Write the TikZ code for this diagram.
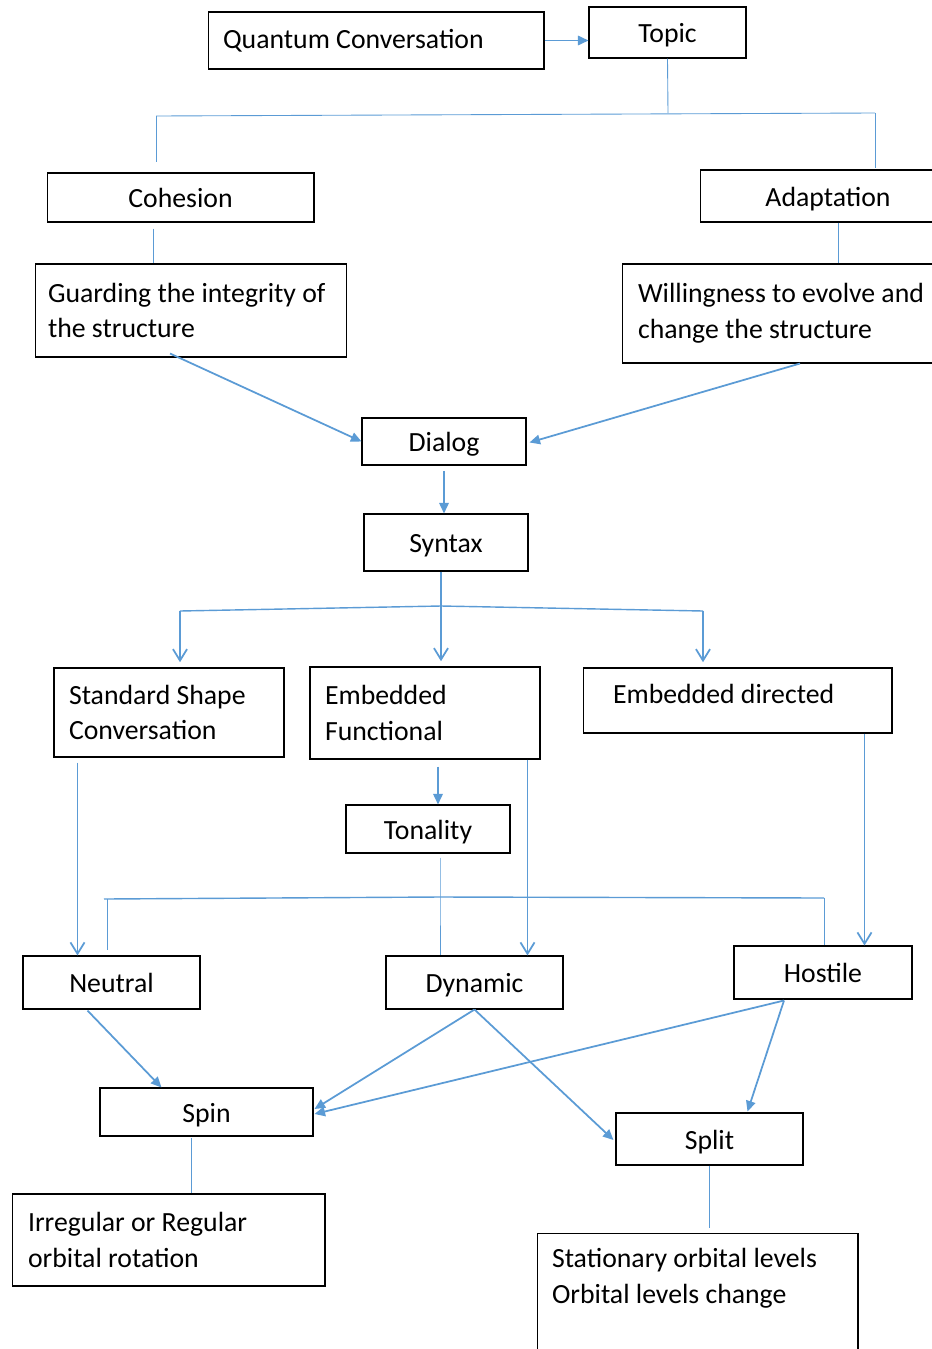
\documentclass[tikz,border=0pt]{standalone}
\usepackage{fontspec}
\setmainfont{Carlito}
\usetikzlibrary{arrows.meta,calc}
\definecolor{linkblue}{HTML}{5B9BD5}
\begin{document}
\begin{tikzpicture}[x=0.02cm, y=-0.02cm,
  frame/.style={draw, line width=0.6pt, inner sep=0pt, font=\fontsize{15.8}{20.3}\selectfont},
  box/.style={frame, text height=13pt, text depth=1.6pt},
  lbox/.style={frame, align=flush left, inner xsep=0.3cm},
  bus/.style={draw=linkblue, line width=0.5pt},
  arr/.style={draw=linkblue, line width=1pt, -{Triangle[length=6pt, width=5.4pt]}},
  barb/.style={draw=linkblue, line width=1.1pt, -{Straight Barb[length=6.5pt, width=8pt, line width=1pt]}}]
\useasboundingbox (0,0) rectangle (932,1349);
% top row
\node[lbox, text width=6.12cm, minimum height=1.14cm] (qc) at (376,40.5) {Quantum Conversation};
\node[box, minimum width=3.14cm, minimum height=1.02cm] (topic) at (667.5,32.5) {Topic};
\node[box, minimum width=5.34cm, minimum height=0.98cm] (cohesion) at (180.5,197.5) {Cohesion};
\node[box, minimum width=5.12cm, minimum height=1.04cm] (adapt) at (828,196) {Adaptation};
\node[lbox, text width=5.72cm, inner xsep=0.26cm, minimum height=1.86cm] (guard) at (191,310.5) {Guarding the integrity of\\the structure};
\node[lbox, inner xsep=0.32cm, text width=6.16cm, minimum height=1.98cm] (willing) at (792,313.5) {Willingness to evolve and\\change the structure};
\node[box, minimum width=3.28cm, minimum height=0.94cm] (dialog) at (444,441.5) {Dialog};
\node[box, minimum width=3.28cm, minimum height=1.14cm] (syntax) at (446,542.5) {Syntax};
% middle row
\node[lbox, text width=4.0cm, minimum height=1.78cm] (ssc) at (169,712.5) {Standard Shape\\Conversation};
\node[lbox, text width=4.0cm, minimum height=1.84cm] (ef) at (425,713) {Embedded\\Functional};
\node[lbox, inner xsep=0.6cm, text width=4.98cm, minimum height=1.3cm, text depth=0.28cm] (ed) at (737.5,700.5) {Embedded directed};
\node[box, minimum width=3.28cm, minimum height=0.96cm] (tonality) at (428,829) {Tonality};
\node[box, minimum width=3.54cm, minimum height=1.06cm] (neutral) at (111.5,982.5) {Neutral};
\node[box, minimum width=3.54cm, minimum height=1.06cm] (dynamic) at (474.5,982.5) {Dynamic};
\node[box, minimum width=3.56cm, minimum height=1.06cm] (hostile) at (823,972.5) {Hostile};
% bottom row
\node[box, minimum width=4.26cm, minimum height=0.96cm] (spin) at (206.5,1112) {Spin};
\node[box, minimum width=3.74cm, minimum height=1.04cm] (split) at (709.5,1139) {Split};
\node[lbox, inner xsep=0.32cm, text width=5.62cm, minimum height=1.84cm] (irregular) at (168.5,1240) {Irregular or Regular\\orbital rotation};
\node[lbox, inner ysep=0.3cm, text width=5.82cm, anchor=north] (stationary) at (697.5,1233) {Stationary orbital levels\\Orbital levels change\\~\\~};

% bus under Topic
\coordinate (tbus) at (668,113);
\coordinate (tbL) at (156,116);
\coordinate (tbR) at (875,113);
\draw[arr] (qc.east) -- (qc.east -| topic.west);
\draw[bus] (topic.south) -- (tbus);
\draw[bus] (tbL) -- (tbR);
\draw[bus, shorten >=6pt] (tbL) -- (tbL |- cohesion.north);
\draw[bus, shorten >=1pt] (tbR) -- (tbR |- adapt.north);
\coordinate (chx) at ($(cohesion.south)+(-27.5,6)$);
\coordinate (awx) at ($(adapt.south)+(10,0)$);
\draw[bus] (chx) -- (chx |- guard.north);
\draw[bus] (awx) -- (awx |- willing.north);
\draw[arr] ($(guard.south)+(-21,-4)$) -- (dialog.west);
\draw[arr] ($(willing.south)+(8,0)$) -- ($(dialog.east)+(3,1)$);
\draw[arr, shorten <=3pt] (dialog.south) -- (dialog.south |- syntax.north);

% bus under Syntax
\coordinate (sbus) at (441,606);
\coordinate (sbL) at (180,611);
\coordinate (sbR) at (703,611);
\draw[bus, line width=1pt] (sbus |- syntax.south) -- (sbus);
\draw[bus, line width=0.8pt] (sbL) -- (sbus) -- (sbR);
\draw[barb, shorten >=3pt] (sbL) -- (sbL |- ssc.north);
\draw[barb, shorten >=3pt] (sbus) -- (sbus |- ef.north);
\draw[barb, shorten >=3pt] (sbR) -- (sbR |- ed.north);

% down to the third row
\coordinate (snx) at ($(ssc.south west)+(24,5)$);
\coordinate (etx) at ($(ef.south)+(13,7)$);
\coordinate (edx) at ($(ef.south east)+(-13,0)$);
\coordinate (ehx) at ($(ed.south east)+(-28,0)$);
\draw[barb] (snx) -- (snx |- neutral.north);
\draw[arr] (etx) -- (etx |- tonality.north);
\draw[barb] (edx) -- (edx |- dynamic.north);
\draw[barb] (ehx) -- (ehx |- hostile.north);

% bus under Tonality
\coordinate (nbus) at (440,897);
\coordinate (nbL) at (104,899);
\coordinate (nbR) at (824,898);
\coordinate (nbLd) at (107,899);
\draw[bus] ($(tonality.south)+(12,4)$) -- (nbus) -- (nbus |- dynamic.north);
\draw[bus, line width=0.8pt] (nbL) -- (nbus) -- (nbR);
\draw[bus, shorten >=3pt] (nbLd) -- (nbLd |- neutral.north);
\draw[bus] (nbR) -- (nbR |- hostile.north);

% into Spin and Split
\coordinate (hsx) at ($(hostile.south)+(-39,1)$);
\draw[arr] ($(neutral.south west)+(65,1)$) -- ($(spin.north west)+(62,0)$);
\draw[arr] (dynamic.south) -- ($(spin.east)+(1,-3)$);
\draw[arr] (hsx) -- ($(spin.east)+(1,2)$);
\draw[arr] (dynamic.south) -- ($(split.west)+(-2,1)$);
\draw[arr] (hsx) -- ($(split.north)+(38,-1)$);
\coordinate (spx) at ($(spin.south)+(-15,1)$);
\draw[bus] (spx) -- (spx |- irregular.north);
\draw[bus, shorten >=3pt] (split.south) -- (split.south |- stationary.north);
\end{tikzpicture}
\end{document}
